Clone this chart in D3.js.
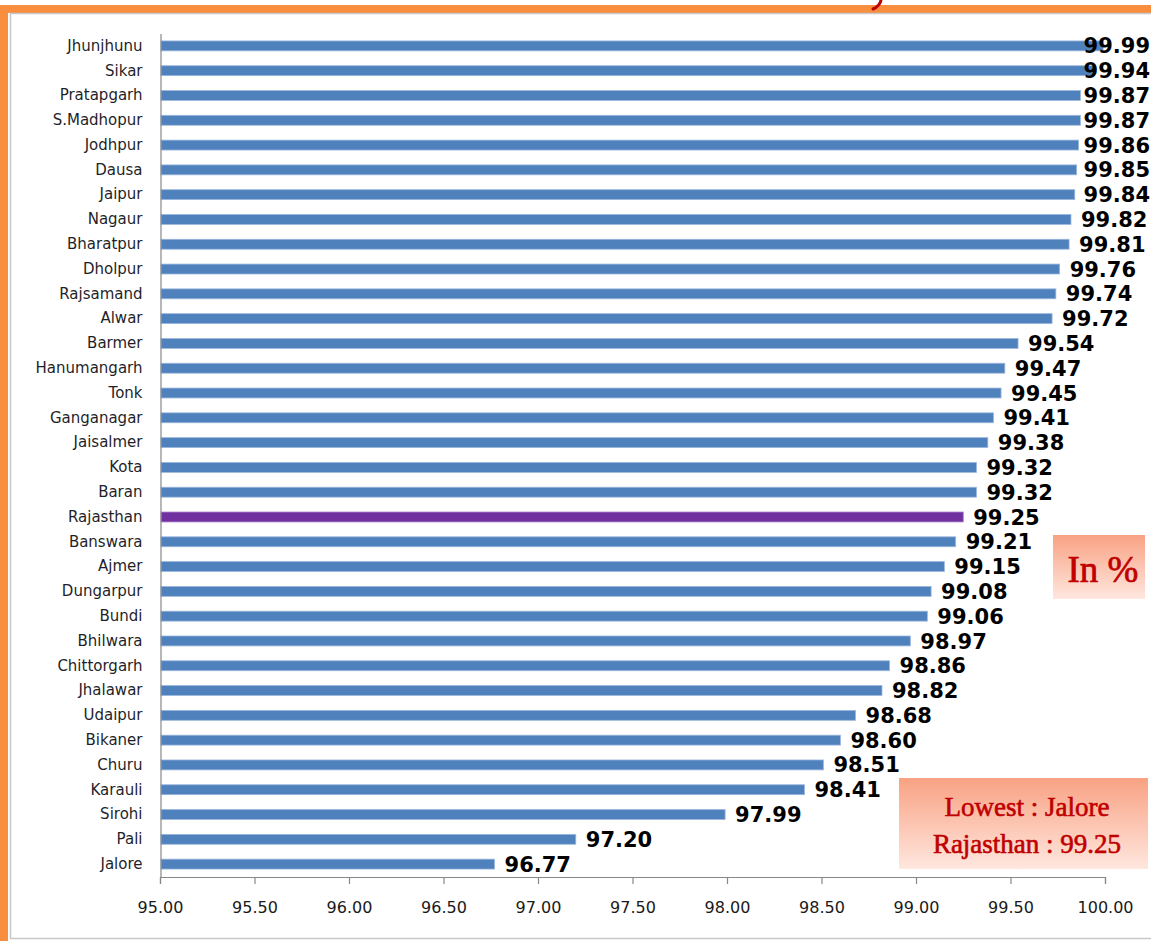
<!DOCTYPE html>
<html>
<head>
<meta charset="utf-8">
<script src="https://cdn.jsdelivr.net/npm/d3@7"></script>
<style>
  html, body { margin: 0; padding: 0; background: #fff; }
  svg { display: block; }
</style>
</head>
<body>
<svg id="chart" width="1151" height="941"></svg>
<script>
// ---- Data ----
const districts = ["Jhunjhunu","Sikar","Pratapgarh","S.Madhopur","Jodhpur","Dausa","Jaipur","Nagaur","Bharatpur","Dholpur","Rajsamand","Alwar","Barmer","Hanumangarh","Tonk","Ganganagar","Jaisalmer","Kota","Baran","Rajasthan","Banswara","Ajmer","Dungarpur","Bundi","Bhilwara","Chittorgarh","Jhalawar","Udaipur","Bikaner","Churu","Karauli","Sirohi","Pali","Jalore"];
const values = [99.99,99.94,99.87,99.87,99.86,99.85,99.84,99.82,99.81,99.76,99.74,99.72,99.54,99.47,99.45,99.41,99.38,99.32,99.32,99.25,99.21,99.15,99.08,99.06,98.97,98.86,98.82,98.68,98.60,98.51,98.41,97.99,97.20,96.77];
const xTicks = [95.00,95.50,96.00,96.50,97.00,97.50,98.00,98.50,99.00,99.50,100.00];
const highlight = "Rajasthan";
const unitNote = "In %";
const noteLines = ["Lowest : Jalore", "Rajasthan : 99.25"];

const svg = d3.select("#chart");
const W = 1151, H = 941;

// ---- Frame ----
svg.append("rect").attr("x", 0).attr("y", 0).attr("width", W).attr("height", H).attr("fill", "#fff");
svg.append("rect").attr("x", 0).attr("y", 5).attr("width", W).attr("height", 8).attr("fill", "#F98E3E");
svg.append("rect").attr("x", 0).attr("y", 5).attr("width", 8).attr("height", H - 5).attr("fill", "#F98E3E");
svg.append("rect").attr("x", 10.5).attr("y", 13.5).attr("width", W).attr("height", 925)
  .attr("fill", "none").attr("stroke", "#C8C8C8").attr("stroke-width", 1.5);
// clipped title remnant (only a glyph descender is visible in the reference)
svg.append("path").attr("d", "M881,0 Q880,6 873,9")
  .attr("fill", "none").attr("stroke", "#C00000").attr("stroke-width", 3).attr("stroke-linecap", "round");

// ---- Scales ----
const x = d3.scaleLinear().domain([95, 100]).range([160, 1105]);
const y = d3.scaleBand().domain(districts).range([33.5, 876.5]).paddingInner(0.6).paddingOuter(0.3);

// ---- Bars ----
const data = districts.map((d, i) => ({ name: d, value: values[i] }));
svg.append("g").selectAll("rect").data(data).join("rect")
  .attr("x", x(95) + 1)
  .attr("y", d => y(d.name))
  .attr("width", d => x(d.value) - x(95) - 1)
  .attr("height", y.bandwidth())
  .attr("fill", d => d.name === highlight ? "#7030A0" : "#4F81BD")
  .attr("stroke", d => d.name === highlight ? "#A77FC6" : "#9BB7DD")
  .attr("stroke-width", 0.8);

// ---- Axes ----
const xAxis = d3.axisBottom(x).tickValues(xTicks).tickFormat(d3.format(".2f")).tickSize(7).tickPadding(18);
const gx = svg.append("g").attr("transform", "translate(0,877)").call(xAxis);
gx.select(".domain").attr("stroke", "#888").attr("stroke-width", 1.2);
gx.selectAll(".tick line").attr("stroke", "#888").attr("stroke-width", 1.2);
gx.selectAll(".tick text").attr("font-family", "DejaVu Sans").attr("font-size", 16).attr("fill", "#1a1a1a");

const yAxis = d3.axisLeft(y).tickSize(0).tickPadding(18);
const gy = svg.append("g").attr("transform", "translate(160.5,0)").call(yAxis);
gy.select(".domain").attr("stroke", "#888").attr("stroke-width", 1.2);
gy.selectAll(".tick text").attr("font-family", "DejaVu Sans").attr("font-size", 15).attr("fill", "#1f1f2a");

// ---- Value labels ----
const labels = svg.append("g").selectAll("text").data(data).join("text")
  .attr("y", d => y(d.name) + y.bandwidth() / 2)
  .attr("dy", "0.36em")
  .attr("font-family", "DejaVu Sans").attr("font-weight", "bold").attr("font-size", 21)
  .attr("fill", "#000")
  .text(d => d.value.toFixed(2));
labels.each(function(d) {
  const w = this.getComputedTextLength();
  const xs = Math.min(x(d.value) + 10, 1150 - w);
  d3.select(this).attr("x", xs);
});

// ---- Note boxes ----
const defs = svg.append("defs");
const grad = defs.append("linearGradient").attr("id", "boxGrad").attr("x1", 0).attr("y1", 0).attr("x2", 0).attr("y2", 1);
grad.append("stop").attr("offset", "0%").attr("stop-color", "#F8A283");
grad.append("stop").attr("offset", "100%").attr("stop-color", "#FFE7DF");

svg.append("rect").attr("x", 1053).attr("y", 535).attr("width", 92).attr("height", 64).attr("fill", "url(#boxGrad)");
svg.append("text").attr("x", 1103).attr("y", 582).attr("text-anchor", "middle")
  .attr("font-family", "Liberation Serif").attr("font-size", 37)
  .attr("fill", "#C00000").attr("stroke", "#C00000").attr("stroke-width", 0.7)
  .text(unitNote);

svg.append("rect").attr("x", 899).attr("y", 778).attr("width", 249).attr("height", 91).attr("fill", "url(#boxGrad)");
svg.append("g").selectAll("text").data(noteLines).join("text")
  .attr("x", 1027).attr("y", (d, i) => 816 + i * 37).attr("text-anchor", "middle")
  .attr("font-family", "Liberation Serif").attr("font-size", 27)
  .attr("fill", "#C00000").attr("stroke", "#C00000").attr("stroke-width", 0.6)
  .text(d => d);
</script>
</body>
</html>
